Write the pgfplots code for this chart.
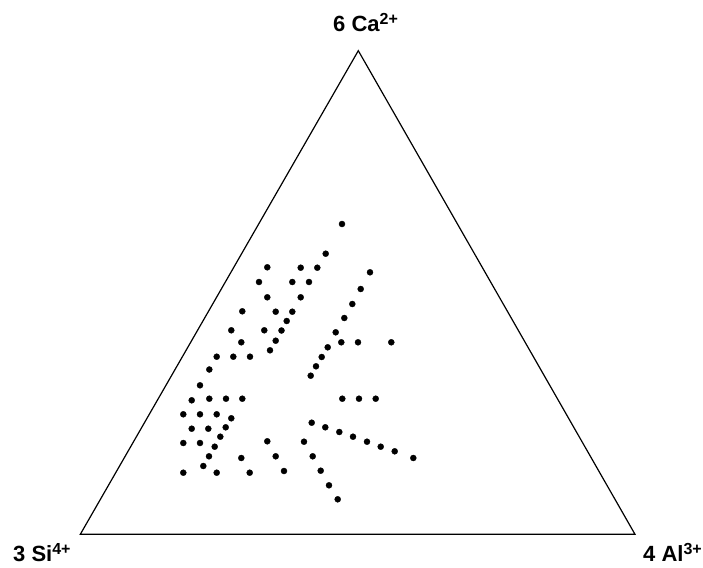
\documentclass[border=0pt]{standalone}
\usepackage{fontspec}
\setmainfont{Liberation Sans}
\usepackage{pgfplots}
\pgfplotsset{compat=1.18}
\usepackage{pgfplotstable}

% dot positions, in pixel units (y downwards)
\pgfplotstableread{
x y
342.0 224.0
325.7 253.7
300.7 267.7
317.3 267.7
267.3 267.3
259.0 282.0
292.3 282.0
309.0 282.0
267.3 297.3
300.7 297.3
242.3 311.3
275.7 311.7
292.3 311.7
286.7 321.0
231.3 330.3
264.3 330.3
281.5 330.5
275.7 340.7
241.3 342.3
270.0 350.3
216.7 356.7
233.3 356.7
250.0 356.7
209.3 369.5
200.0 385.3
191.7 400.3
209.3 398.7
226.0 398.7
242.3 398.7
183.3 414.3
200.0 414.3
216.7 414.3
231.3 418.3
191.7 428.7
208.3 428.7
225.7 427.3
220.3 436.7
183.3 443.0
200.0 443.0
214.7 446.7
209.0 456.3
203.3 466.0
183.3 472.7
216.7 472.7
241.3 458.0
249.7 472.7
267.3 441.3
275.7 456.3
284.0 471.0
370.0 272.3
360.7 289.0
352.3 304.0
344.3 318.0
335.7 332.3
341.3 342.3
358.0 342.3
391.3 342.3
327.7 347.3
321.7 357.0
316.0 366.3
310.7 375.7
342.3 398.7
359.0 398.7
375.7 398.7
311.7 422.7
325.3 427.3
339.3 432.0
353.0 436.7
367.0 441.7
380.7 446.7
394.7 451.3
413.3 458.0
304.0 441.7
312.7 456.3
320.7 470.7
329.0 485.3
337.7 499.3
}\dots

\newcommand{\ion}[2]{{\fontsize{22}{22}\selectfont\bfseries #1\raisebox{7pt}{\fontsize{16}{16}\selectfont #2}}}

\begin{document}
\begin{tikzpicture}
\useasboundingbox (0,0) rectangle (703pt,567pt);
\begin{axis}[
    at={(0,0)}, anchor=south west,
    width=703pt, height=567pt,
    scale only axis,
    xmin=0, xmax=703,
    ymin=0, ymax=567,
    y dir=reverse,
    hide axis,
    clip=false,
]
\addplot[black, line width=1.2pt, line join=miter, mark=none]
    coordinates {(357,534.3) (635,534.3) (358.3,50.7) (80.3,534.3) (357,534.3)};
\addplot[only marks, mark=*, mark size=3pt, black] table[x=x, y=y] {\dots};

\node[anchor=base west, inner sep=0pt] at (axis cs:333,32) {\ion{6 Ca}{2+}};
\node[anchor=base west, inner sep=0pt] at (axis cs:13,561) {\ion{3 Si}{4+}};
\node[anchor=base west, inner sep=0pt] at (axis cs:643,561) {\ion{4 Al}{3+}};
\end{axis}
\end{tikzpicture}
\end{document}
